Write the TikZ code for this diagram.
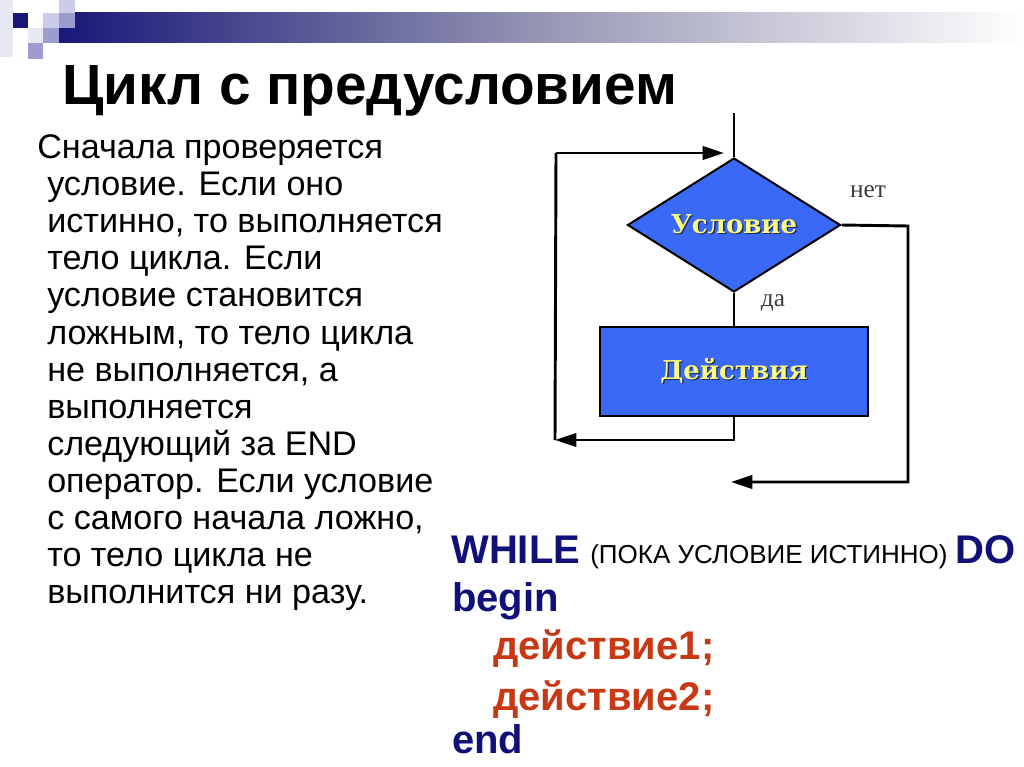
\documentclass[tikz,border=0pt]{standalone}
\usepackage{fontspec}
\setmainfont{Liberation Sans}
\newfontfamily\flowfont{DejaVu Serif}
\newfontfamily\labelfont{Liberation Serif}
\usetikzlibrary{arrows.meta,shapes.geometric}
\definecolor{barnavy}{RGB}{24,24,120}
\definecolor{barmid}{RGB}{150,150,180}
\definecolor{sqpale}{RGB}{232,232,244}
\definecolor{sqlight}{RGB}{204,204,232}
\definecolor{sqmed}{RGB}{156,156,208}
\definecolor{codenavy}{RGB}{16,16,120}
\definecolor{codered}{RGB}{200,56,20}
\definecolor{flowblue}{RGB}{58,106,245}
\definecolor{flowyellow}{RGB}{250,250,130}
\definecolor{flowshadow}{RGB}{30,40,90}
\definecolor{labelgray}{RGB}{60,60,60}
\tikzset{
  titletext/.style={anchor=base west, inner sep=0pt, font=\bfseries\fontsize{42.5}{50}\selectfont},
  bodytext/.style={anchor=base west, inner sep=0pt, font=\fontsize{25.6}{28}\selectfont},
  codekw/.style={anchor=base west, inner sep=0pt, text=codenavy, font=\bfseries\fontsize{30}{34}\selectfont},
  codeact/.style={anchor=base west, inner sep=0pt, text=codered, font=\bfseries\fontsize{30}{34}\selectfont},
  codenote/.style={anchor=base west, inner sep=0pt, font=\fontsize{19.5}{22}\selectfont},
  condbox/.style={diamond, draw=black, line width=1.5pt, fill=flowblue, inner sep=0pt,
     minimum width=159.75pt, minimum height=100.5pt},
  actbox/.style={rectangle, draw=black, line width=1.5pt, fill=flowblue, inner sep=0pt,
     minimum width=201pt, minimum height=66.75pt},
  flowtext/.style={inner sep=0pt, text=flowyellow, font=\flowfont\bfseries\fontsize{19.5}{22}\selectfont},
  flowshadowtext/.style={inner sep=0pt, text=flowshadow, font=\flowfont\bfseries\fontsize{19.5}{22}\selectfont},
  flowlabel/.style={inner sep=0pt, text=labelgray, font=\labelfont\fontsize{19}{21}\selectfont},
  conn/.style={line width=2.2pt, draw=black},
  connarrow/.style={conn, -{Triangle[length=16pt,width=10pt]}},
}
\begin{document}
\begin{tikzpicture}[x=0.75pt,y=-0.75pt]
\useasboundingbox (0,0) rectangle (1024,767);
\fill[white] (0,0) rectangle (1024,767);
% header decoration
\shade[left color=barnavy, right color=white, middle color=barmid, shading angle=90] (59,13) rectangle (1024,43);
\fill[sqpale] (0,0) rectangle (13,57);
\fill[barnavy] (13,13) rectangle (28,28);
\fill[sqlight] (43,13) rectangle (59,28);
\fill[sqlight] (59,0) rectangle (75,13);
\fill[sqmed] (59,13) rectangle (75,28);
\fill[sqpale] (28,28) rectangle (43,43);
\fill[sqmed] (43,28) rectangle (59,43);
\fill[sqmed] (28,43) rectangle (43,59);
% title
\node[titletext] (title) at (62,104) {Цикл с предусловием};
% body text
\node[bodytext] (l1) at (37,158.5) {Сначала проверяется};
\node[bodytext] (l2) at (47,195.6) {условие. Если оно};
\node[bodytext] (l3) at (47,232.7) {истинно, то выполняется};
\node[bodytext] (l4) at (47,269.8) {тело цикла. Если};
\node[bodytext] (l5) at (47,306.9) {условие становится};
\node[bodytext] (l6) at (47,344.0) {ложным, то тело цикла};
\node[bodytext] (l7) at (47,381.1) {не выполняется, а};
\node[bodytext] (l8) at (47,418.2) {выполняется};
\node[bodytext] (l9) at (47,455.3) {следующий за END};
\node[bodytext] (l10) at (47,492.4) {оператор. Если условие};
\node[bodytext] (l11) at (47,529.5) {с самого начала ложно,};
\node[bodytext] (l12) at (47,566.6) {то тело цикла не};
\node[bodytext] (l13) at (47,603.7) {выполнится ни разу.};
% flowchart
\node[condbox] (cond) at (734,225) {};
\node[actbox] (act) at (734,371.5) {};
\node[flowshadowtext] (condsh) at (735.3,225.3) {Условие};
\node[flowtext] (condtxt) at (734,224) {Условие};
\node[flowshadowtext] (actsh) at (735.3,372.3) {Действия};
\node[flowtext] (acttxt) at (734,371) {Действия};
\node[flowlabel] (no) at (868,192) {нет};
\node[flowlabel] (yes) at (773,303) {да};
\coordinate (start) at (734,113);
\coordinate (ne) at (908,226);
\coordinate (se) at (908,482);
\coordinate (exit) at (731,482);
\coordinate (lb) at (555,440);
\coordinate (lt) at (556,153);
\coordinate (entry) at (724,153);
\draw[conn] (start) -- (cond.north);
\draw[conn] (cond.south) -- (act.north);
\draw[connarrow] (cond.east) -- (ne) -- (se) -- (exit);
\draw[connarrow] (act.south) |- (lb);
\draw[conn] (lb) -- (lt);
\draw[connarrow] (lt) -- (entry);
% code
\node[codekw] (while) at (451,563) {WHILE};
\node[codenote] (note) at (590,563) {(ПОКА УСЛОВИЕ ИСТИННО)};
\node[codekw] (do) at (955,563) {DO};
\node[codekw] (begin) at (452,611) {begin};
\node[codeact] (act1) at (493,659) {действие1;};
\node[codeact] (act2) at (493,710) {действие2;};
\node[codekw] (end) at (452,753) {end};
\end{tikzpicture}
\end{document}
